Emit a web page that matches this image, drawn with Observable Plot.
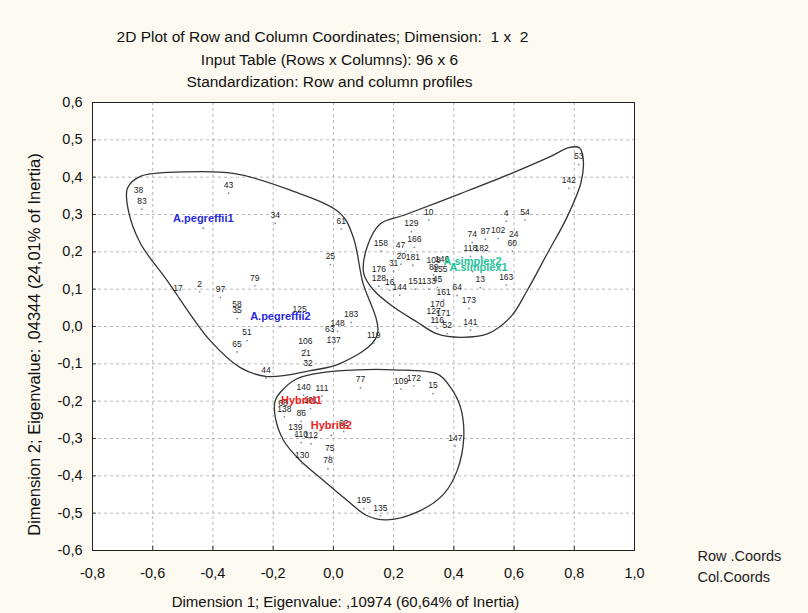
<!DOCTYPE html>
<html>
<head>
<meta charset="utf-8">
<script src="https://cdn.jsdelivr.net/npm/d3@7"></script>
<script src="https://cdn.jsdelivr.net/npm/@observablehq/plot@0.6"></script>
<style>
  html, body { margin: 0; padding: 0; background: #fcf9f0; }
  #chart svg { display: block; }
</style>
</head>
<body>
<div id="chart"></div>
<script>
// ---- Row coordinates (labels, Dimension 1, Dimension 2) ----
const rowLabels = ["38","83","43","34","61","25","79","17","2","97","58","35","125","183","148","63","51","65","106","137","21","32","44","119",
  "53","142","10","4","54","129","74","87","102","24","60","158","47","166","118","182","20","181","31","176","128","16","144","151","133","45","108","146","89","155","13","163","161","64","173","170","127","171","116","52","141",
  "77","109","172","15","140","111","101","68","138","86","139","110","112","62","75","78","130","147","195","135"];
const rowDim1 = [-0.647,-0.636,-0.348,-0.193,0.026,-0.010,-0.261,-0.516,-0.444,-0.375,-0.320,-0.320,-0.112,0.059,0.014,-0.012,-0.287,-0.320,-0.093,0.001,-0.091,-0.084,-0.224,0.134,
  0.815,0.782,0.317,0.574,0.636,0.259,0.461,0.505,0.547,0.599,0.594,0.158,0.223,0.269,0.455,0.492,0.225,0.264,0.200,0.151,0.151,0.187,0.220,0.272,0.317,0.346,0.333,0.361,0.333,0.355,0.488,0.574,0.366,0.411,0.450,0.345,0.333,0.365,0.345,0.378,0.455,
  0.090,0.225,0.267,0.331,-0.099,-0.038,-0.076,-0.167,-0.163,-0.107,-0.126,-0.107,-0.074,0.034,-0.012,-0.018,-0.104,0.405,0.101,0.156];
const rowDim2 = [0.343,0.314,0.357,0.276,0.261,0.166,0.109,0.081,0.093,0.078,0.038,0.021,0.026,0.011,-0.013,-0.028,-0.038,-0.068,-0.062,-0.059,-0.092,-0.119,-0.138,-0.044,
  0.434,0.370,0.285,0.282,0.285,0.254,0.225,0.234,0.236,0.225,0.202,0.202,0.196,0.212,0.188,0.188,0.167,0.164,0.148,0.133,0.108,0.097,0.084,0.100,0.100,0.105,0.155,0.160,0.138,0.133,0.104,0.111,0.071,0.083,0.048,0.039,0.020,0.013,-0.005,-0.019,-0.010,
  -0.164,-0.168,-0.159,-0.180,-0.184,-0.186,-0.220,-0.227,-0.242,-0.254,-0.290,-0.311,-0.314,-0.281,-0.347,-0.381,-0.367,-0.320,-0.488,-0.507];

// ---- Column coordinates ----
const colLabels = ["A.pegreffii1","A.pegreffii2","A.simplex2","A.simplex1","Hybrid1","Hybrid2"];
const colGroup  = ["A.pegreffii","A.pegreffii","A.simplex","A.simplex","Hybrid","Hybrid"];
const colDim1 = [-0.432,-0.176,0.462,0.482,-0.106,-0.007];
const colDim2 = [0.263,0.000,0.147,0.131,-0.225,-0.292];
const groupNames  = ["A.pegreffii","A.simplex","Hybrid"];
const groupColors = ["#2a2ae0","#1fc39a","#f02020"];

// ---- Enclosing curves (hand-drawn outlines, data coordinates) ----
const outline1 = [[-0.684,0.370],[-0.641,0.402],[-0.498,0.414],[-0.332,0.410],[-0.143,0.365],[0.023,0.303],[0.066,0.239],[0.096,0.123],[0.145,-0.024],[0.023,-0.099],[-0.076,-0.118],[-0.220,-0.134],[-0.309,-0.110],[-0.409,-0.038],[-0.552,0.123],[-0.641,0.223],[-0.681,0.311]];
const outline2 = [[0.156,0.275],[0.234,0.298],[0.422,0.356],[0.588,0.409],[0.720,0.455],[0.785,0.480],[0.818,0.478],[0.830,0.445],[0.822,0.385],[0.776,0.293],[0.710,0.195],[0.644,0.097],[0.588,0.025],[0.511,-0.020],[0.422,-0.029],[0.345,-0.020],[0.278,0.012],[0.200,0.052],[0.134,0.097],[0.101,0.141],[0.112,0.213]];
const outline3 = [[-0.176,-0.176],[-0.121,-0.140],[-0.032,-0.123],[0.079,-0.116],[0.200,-0.116],[0.345,-0.127],[0.389,-0.163],[0.422,-0.216],[0.433,-0.297],[0.411,-0.386],[0.366,-0.449],[0.289,-0.493],[0.178,-0.518],[0.112,-0.507],[0.046,-0.466],[-0.032,-0.413],[-0.110,-0.359],[-0.165,-0.306],[-0.193,-0.243],[-0.193,-0.198]];

// ---- Axes & text ----
const xTicks = [-0.8,-0.6,-0.4,-0.2,0.0,0.2,0.4,0.6,0.8,1.0];
const yTicks = [-0.6,-0.5,-0.4,-0.3,-0.2,-0.1,0.0,0.1,0.2,0.3,0.4,0.5,0.6];
const titleLines = ["2D Plot of Row and Column Coordinates; Dimension:  1 x  2",
                    "Input Table (Rows x Columns): 96 x 6",
                    "Standardization: Row and column profiles"];
const xLabel = "Dimension 1; Eigenvalue: ,10974 (60,64% of Inertia)";
const yLabel = "Dimension 2; Eigenvalue: ,04344 (24,01% of Inertia)";
const legendLabels = ["Row .Coords","Col.Coords"];

const rows = rowLabels.map((l,i) => ({label:l, x:rowDim1[i], y:rowDim2[i]}));
const cols = colLabels.map((l,i) => ({label:l, group:colGroup[i], x:colDim1[i], y:colDim2[i]}));
const fmt = d => Math.abs(d) < 1e-9 ? "0,0" : d.toFixed(1).replace(".", ",");
const FONT = "Liberation Sans, Arial, sans-serif";
const outlineOpts = {x: d => d[0], y: d => d[1], curve: "catmull-rom-closed", stroke: "#333", strokeWidth: 1.3};

const chart = Plot.plot({
  width: 808, height: 613,
  marginLeft: 92, marginRight: 174, marginTop: 102, marginBottom: 63,
  style: {fontFamily: FONT, background: "#fcf9f0", color: "#111"},
  x: {type: "linear", domain: [-0.8, 1.0]},
  y: {type: "linear", domain: [-0.6, 0.6]},
  color: {domain: groupNames, range: groupColors},
  marks: [
    Plot.frame({fill: "white"}),
    Plot.gridX(xTicks, {stroke: "#b8b8b8", strokeOpacity: 1, strokeDasharray: "3,3"}),
    Plot.gridY(yTicks, {stroke: "#b8b8b8", strokeOpacity: 1, strokeDasharray: "3,3"}),
    Plot.axisX(xTicks, {tickSize: 0, tickPadding: 17, tickFormat: fmt, fontSize: 14.5, label: null}),
    Plot.axisY(yTicks, {tickSize: 0, tickPadding: 10, tickFormat: fmt, fontSize: 14.5, label: null}),
    Plot.ruleX(xTicks, {x: d => d, y1: -0.6, y2: -0.588, stroke: "#333"}),
    Plot.ruleY(yTicks, {y: d => d, x1: -0.8, x2: -0.787, stroke: "#333"}),
    Plot.line(outline1, outlineOpts),
    Plot.line(outline2, outlineOpts),
    Plot.line(outline3, outlineOpts),
    Plot.dot(rows, {x: "x", y: "y", r: 0.9, fill: "#7f8fb0", stroke: null}),
    Plot.text(rows, {x: "x", y: "y", text: "label", dy: -8, fontSize: 8.5, fill: "#222"}),
    Plot.dot(cols, {x: "x", y: "y", r: 1, fill: "#8a90a8", stroke: null}),
    Plot.text(cols, {x: "x", y: "y", text: "label", dy: -10, fontSize: 11, fill: "group", fontWeight: "bold"}),
    Plot.frame({stroke: "#222"}),
    Plot.text([titleLines[0]], {frameAnchor: "top", dx: -41, dy: -72, fontSize: 15.5, fill: "#111"}),
    Plot.text([titleLines[1]], {frameAnchor: "top", dx: -34, dy: -49, fontSize: 15.5, fill: "#111"}),
    Plot.text([titleLines[2]], {frameAnchor: "top", dx: -34, dy: -27, fontSize: 15.5, fill: "#111"}),
    Plot.text([xLabel], {frameAnchor: "bottom", dx: -18, dy: 56, fontSize: 15, fill: "#111"}),
    Plot.text([yLabel], {frameAnchor: "left", textAnchor: "middle", dx: -58, dy: 18, rotate: -90, fontSize: 16.5, fill: "#111"}),
    Plot.text([legendLabels[0]], {frameAnchor: "bottom-right", textAnchor: "start", dx: 63, dy: 10, fontSize: 14.5, fill: "#222"}),
    Plot.text([legendLabels[1]], {frameAnchor: "bottom-right", textAnchor: "start", dx: 63, dy: 31, fontSize: 14.5, fill: "#222"}),
  ]
});
document.getElementById("chart").appendChild(chart);
</script>
</body>
</html>
